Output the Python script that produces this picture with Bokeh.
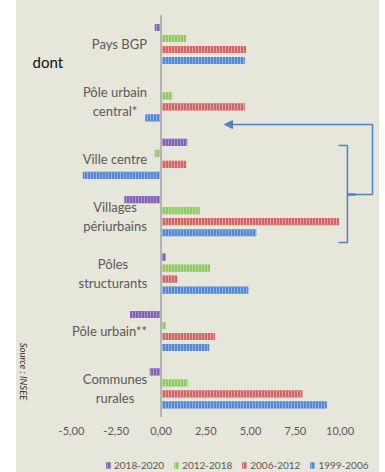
import numpy as np
from bokeh.plotting import figure
from bokeh.models import (Range1d, FixedTicker, CustomJSTickFormatter, Legend, LegendItem,
                          Arrow, NormalHead, Spacer)
from bokeh.layouts import row, column
from bokeh.core.properties import value
from bokeh.embed import file_html
from bokeh.resources import INLINE

categories = ["Pays BGP", "Pôle urbain\ncentral*", "Ville centre", "Villages\npériurbains",
              "Pôles\nstructurants", "Pôle urbain**", "Communes\nrurales"]
series_names = ["2018-2020", "2012-2018", "2006-2012", "1999-2006"]
v_2018_2020 = [-0.35, 0.0, 1.47, -2.05, 0.26, -1.73, -0.63]
v_2012_2018 = [1.40, 0.63, -0.35, 2.18, 2.74, 0.26, 1.49]
v_2006_2012 = [4.75, 4.68, 1.40, 9.94, 0.90, 3.02, 7.90]
v_1999_2006 = [4.68, -0.88, -4.37, 5.32, 4.88, 2.70, 9.26]
x_ticks = [-5, -2.5, 0, 2.5, 5, 7.5, 10]

series_values = [v_2018_2020, v_2012_2018, v_2006_2012, v_1999_2006]
fills = ["#8064B4", "#93C765", "#CF6767", "#5588D3"]
hatches = ["#A994D0", "#B8DC98", "#E3A2A2", "#8EB3E6"]
offsets = [-0.2875, -0.0958, 0.0958, 0.2875]

BG = "#E7E6DA"
TXT = "#595959"
LINE = "#4F81C8"

p = figure(frame_width=363, frame_height=420, x_range=Range1d(-8.068, 12.2),
           y_range=Range1d(6.559, -0.758),
           y_axis_location=None, toolbar_location=None, output_backend="svg",
           min_border_left=0, min_border_right=0, min_border_top=0, min_border_bottom=20,
           background_fill_color=BG, border_fill_color=BG, outline_line_color=None)
p.xgrid.grid_line_color = None
p.ygrid.grid_line_color = None

idx = np.arange(len(categories))
renderers = []
for vals, fc, hc, off in zip(series_values, fills, hatches, offsets):
    r = p.hbar(y=idx + off, right=vals, left=0, height=0.125, fill_color=fc, line_color=None,
               hatch_pattern="|", hatch_color=hc, hatch_scale=3, hatch_weight=1)
    renderers.append(r)

# vertical category axis line at zero
p.segment(x0=[0], y0=[-0.5], x1=[0], y1=[6.5], line_color="#B4B4B4", line_width=2)

# category labels: single-line right aligned, multi-line blocks with centred lines
single = [i for i, c in enumerate(categories) if "\n" not in c]
multi = [i for i, c in enumerate(categories) if "\n" in c]
p.text(x=[0] * len(single), y=[idx[i] for i in single], text=[categories[i] for i in single],
       x_offset=-14, text_align="right", text_baseline="middle", text_color=TXT,
       text_font=value("Lato"), text_font_size="13px")
multi_centre_offset = {1: -46, 3: -46, 4: -48, 6: -46}
p.text(x=[0] * len(multi), y=[idx[i] for i in multi], text=[categories[i] for i in multi],
       x_offset=[multi_centre_offset[i] for i in multi], text_align="center",
       text_baseline="middle", text_color=TXT, text_font=value("Lato"),
       text_font_size="13px", text_line_height=1.2)

p.text(x=[-7.17], y=[0.322], text=["dont"], text_align="left", text_baseline="middle",
       text_color="#111111", text_font=value("Lato"), text_font_size="15px")
p.text(x=[-7.705], y=[5.706], text=["Source : INSEE"], angle=-np.pi / 2, text_align="center",
       text_baseline="middle", text_color="#333333", text_font=value("Lato"),
       text_font_size="9.5px", text_font_style="italic")

# annotation arrow and bracket
p.add_layout(Arrow(x_start=11.81, y_start=1.402, x_end=3.545, y_end=1.402, line_color=LINE,
                   line_width=1.5, end=NormalHead(size=8, fill_color=LINE, line_color=LINE)))
p.multi_line(xs=[[11.81, 11.81, 10.41], [9.91, 10.41, 10.41, 9.91], [10.41, 10.86]],
             ys=[[1.402, 2.622, 2.622], [1.768, 1.768, 3.458, 3.458], [2.622, 2.622]],
             line_color=LINE, line_width=[1.5, 1.5, 2.5])

p.xaxis.ticker = FixedTicker(ticks=x_ticks)
p.xaxis.formatter = CustomJSTickFormatter(code="return tick.toFixed(2).replace('.', ',')")
p.xaxis.axis_line_color = None
p.xaxis.major_tick_line_color = None
p.xaxis.minor_tick_line_color = None
p.xaxis.major_tick_out = 0
p.xaxis.major_tick_in = 0
p.xaxis.major_label_standoff = 6
p.xaxis.major_label_text_color = TXT
p.xaxis.major_label_text_font = "Lato"
p.xaxis.major_label_text_font_size = "11px"

# legend strip under the chart (same glyph styles as the bars; swatch renderers lie off-range)
pl = figure(frame_width=363, frame_height=32, x_range=Range1d(0, 1), y_range=Range1d(0, 1),
            x_axis_location=None, y_axis_location=None, toolbar_location=None,
            output_backend="svg", min_border=0,
            background_fill_color=BG, border_fill_color=BG, outline_line_color=None)
pl.xgrid.grid_line_color = None
pl.ygrid.grid_line_color = None
leg_renderers = [pl.hbar(y=[-10], right=[0], left=0, height=0.1, fill_color=fc, line_color=None,
                         hatch_pattern="|", hatch_color=hc, hatch_scale=3, hatch_weight=1)
                 for fc, hc in zip(fills, hatches)]
legend = Legend(items=[LegendItem(label=n, renderers=[r]) for n, r in zip(series_names, leg_renderers)],
                orientation="horizontal", location=(89, 1), glyph_width=6, glyph_height=8,
                label_standoff=3, spacing=9, padding=0, margin=0, border_line_color=None,
                background_fill_alpha=0, label_text_color=TXT, label_text_font="Lato",
                label_text_font_size="10px", label_height=12)
pl.add_layout(legend)

chart = column(p, pl, spacing=0, styles={"background-color": BG})
layout = row(Spacer(width=16, height=472), chart, Spacer(width=6, height=472))
open("out.html", "w").write(file_html(layout, INLINE))
